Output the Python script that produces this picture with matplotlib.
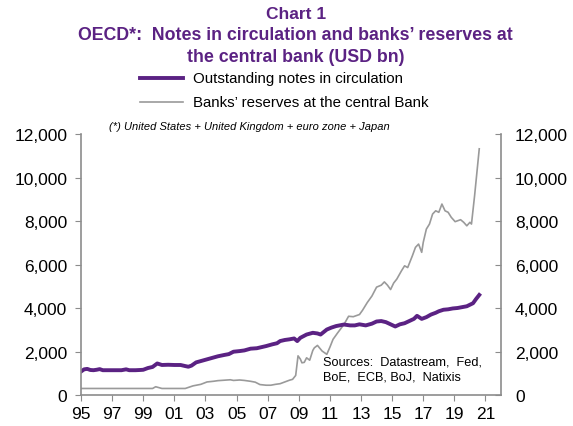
import matplotlib
matplotlib.use("Agg")
import matplotlib.pyplot as plt
from matplotlib.lines import Line2D

# ==========================
# DATA (USD bn)
# ==========================

notes_year = [
    1995.0, 1995.2, 1995.4, 1995.6, 1995.8, 1996.0, 1996.2, 1996.4, 1996.8,
    1997.2, 1997.6, 1997.9, 1998.1, 1998.5, 1998.8, 1999.0, 1999.3, 1999.6,
    1999.9, 2000.2, 2000.6, 2001.0, 2001.4, 2001.7, 2001.9, 2002.1, 2002.4,
    2002.7, 2003.1, 2003.4, 2003.8, 2004.2, 2004.5, 2004.8, 2005.2, 2005.5,
    2005.9, 2006.3, 2006.6, 2006.9, 2007.3, 2007.6, 2007.8, 2008.1, 2008.4,
    2008.7, 2008.9, 2009.1, 2009.5, 2009.9, 2010.2, 2010.4, 2010.8, 2011.1,
    2011.4, 2011.9, 2012.3, 2012.6, 2012.9, 2013.3, 2013.7, 2014.0, 2014.3,
    2014.6, 2014.9, 2015.2, 2015.5, 2015.8, 2016.1, 2016.4, 2016.6, 2016.9,
    2017.2, 2017.5, 2017.8, 2018.0, 2018.3, 2018.6, 2018.9, 2019.2, 2019.5,
    2019.8, 2020.0, 2020.2, 2020.4, 2020.6,
]
notes_value = [
    1080, 1180, 1200, 1150, 1140, 1160, 1190, 1140, 1140,
    1140, 1140, 1180, 1140, 1140, 1150, 1160, 1240, 1290,
    1450, 1380, 1390, 1380, 1380, 1330, 1300, 1350, 1500,
    1560, 1640, 1700, 1780, 1840, 1880, 1990, 2020, 2050,
    2130, 2150, 2200, 2250, 2330, 2380, 2480, 2530, 2560,
    2600, 2480, 2630, 2780, 2860, 2830, 2780, 3010, 3100,
    3170, 3240, 3200, 3200, 3250, 3200, 3280, 3380, 3400,
    3350, 3250, 3150, 3250, 3300, 3400, 3500, 3640, 3500,
    3580, 3700, 3780, 3850, 3920, 3940, 3980, 4000, 4040,
    4080, 4150, 4220, 4420, 4600,
]

reserves_year = [
    1995.0, 1996.0, 1997.0, 1998.0, 1999.0, 1999.6, 1999.8, 2000.2, 2001.0,
    2001.7, 2002.2, 2002.7, 2003.1, 2003.5, 2003.8, 2004.2, 2004.6, 2004.8,
    2005.2, 2005.5, 2005.9, 2006.2, 2006.5, 2006.9, 2007.2, 2007.5, 2007.8,
    2008.1, 2008.4, 2008.6, 2008.8, 2008.95, 2009.1, 2009.2, 2009.35, 2009.5,
    2009.7, 2009.9, 2010.0, 2010.2, 2010.5, 2010.8, 2011.0, 2011.2, 2011.5,
    2011.9, 2012.2, 2012.5, 2012.9, 2013.1, 2013.4, 2013.7, 2014.0, 2014.3,
    2014.5, 2014.7, 2014.9, 2015.1, 2015.3, 2015.6, 2015.8, 2016.0, 2016.3,
    2016.5, 2016.7, 2016.9, 2017.0, 2017.2, 2017.4, 2017.6, 2017.8, 2018.0,
    2018.2, 2018.4, 2018.6, 2018.8, 2019.05, 2019.4, 2019.6, 2019.8, 2020.0,
    2020.1, 2020.3, 2020.45, 2020.6,
]
reserves_value = [
    300, 300, 300, 300, 300, 300, 380, 300, 300,
    300, 420, 490, 600, 630, 660, 680, 700, 670,
    690, 670, 630, 590, 480, 450, 450, 490, 520,
    600, 680, 720, 900, 1800, 1650, 1480, 1500, 1710,
    1600, 2050, 2170, 2280, 2020, 1870, 2200, 2560, 2860,
    3240, 3620, 3600, 3700, 3900, 4250, 4550, 4960, 5050,
    5200, 5050, 4850, 5150, 5330, 5710, 5940, 5860, 6400,
    6790, 6940, 6560, 7020, 7630, 7860, 8320, 8470, 8400,
    8780, 8470, 8400, 8170, 7970, 8060, 7940, 7780, 7940,
    7860, 9160, 10240, 11320,
]

x_ticks = list(range(1995, 2022, 2))
x_labels = [f"{y % 100:02d}" for y in x_ticks]
y_ticks = list(range(0, 12001, 2000))

PURPLE = "#5B2283"
GREY = "#9A9A9A"
AXIS = "#8C8C8C"

plt.rcParams["font.family"] = ["Liberation Sans", "DejaVu Sans"]

# ==========================
# FIGURE
# ==========================

fig = plt.figure(figsize=(5.73, 4.27), dpi=100)
ax = fig.add_axes([0.1414, 0.0726, 0.733, 0.6112])

ax.plot(reserves_year, reserves_value, color=GREY, lw=1.2)
ax.plot(notes_year, notes_value, color=PURPLE, lw=2.8)

ax.set_xlim(1995, 2022)
ax.set_ylim(0, 12000)

ax.set_xticks(x_ticks)
ax.set_xticklabels(x_labels)
ax.set_yticks(y_ticks)
ax.set_yticklabels([f"{v:,}" for v in y_ticks])

for side in ["left", "right", "bottom"]:
    ax.spines[side].set_color(AXIS)
    ax.spines[side].set_linewidth(1.2)
ax.spines["top"].set_visible(False)

ax.tick_params(axis="x", direction="out", length=4, color=AXIS,
               labelsize=12.5, pad=4)
ax.tick_params(axis="y", direction="out", length=4, color=AXIS,
               labelsize=12.5, pad=6)

# mirrored scale on the right
ax2 = ax.twinx()
ax2.set_ylim(0, 12000)
ax2.set_yticks(y_ticks)
ax2.set_yticklabels([f"{v:,}" for v in y_ticks])
ax2.tick_params(axis="y", direction="in", length=4, color=AXIS,
                labelsize=12.5, pad=10)
for side in ["left", "right", "bottom", "top"]:
    ax2.spines[side].set_visible(False)

# ==========================
# TITLE / LEGEND / NOTES
# ==========================

fig.text(0.516, 0.966, "Chart 1", ha="center", va="center",
         fontsize=12.5, fontweight="bold", color=PURPLE)
fig.text(0.516, 0.916, "OECD*:  Notes in circulation and banks\u2019 reserves at",
         ha="center", va="center", fontsize=12.8, fontweight="bold", color=PURPLE)
fig.text(0.516, 0.866, "the central bank (USD bn)",
         ha="center", va="center", fontsize=12.8, fontweight="bold", color=PURPLE)

fig.add_artist(Line2D([0.245, 0.32], [0.815, 0.815], color=PURPLE, lw=2.8))
fig.text(0.337, 0.815, "Outstanding notes in circulation",
         ha="left", va="center", fontsize=10.8)
fig.add_artist(Line2D([0.245, 0.32], [0.759, 0.759], color=GREY, lw=1.2))
fig.text(0.337, 0.759, "Banks\u2019 reserves at the central Bank",
         ha="left", va="center", fontsize=10.8)

fig.text(0.436, 0.703, "(*) United States + United Kingdom + euro zone + Japan",
         ha="center", va="center", fontsize=8, style="italic")

ax.text(0.575, 0.1, "Sources:  Datastream,  Fed,\nBoE,  ECB, BoJ,  Natixis",
        transform=ax.transAxes, ha="left", va="center", fontsize=9.2,
        linespacing=1.3)

fig.savefig("out.png", dpi=100)
